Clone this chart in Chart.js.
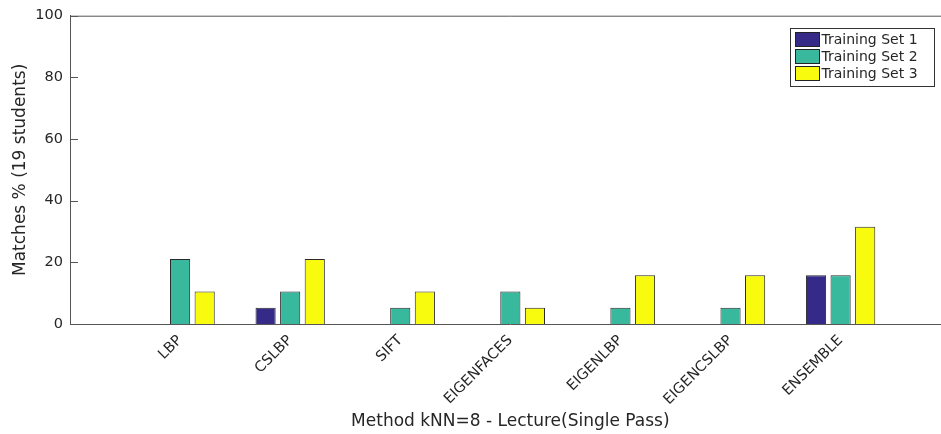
<!DOCTYPE html>
<html>
<head>
<meta charset="utf-8">
<script src="https://cdn.jsdelivr.net/npm/chart.js@4/dist/chart.umd.min.js"></script>
<style>
  html, body { margin: 0; padding: 0; background: #fff; overflow: hidden; }
  #wrap { width: 971px; height: 434px; }
</style>
</head>
<body>
<div id="wrap"><canvas id="methodChart"></canvas></div>
<script>
const methods = ['LBP', 'CSLBP', 'SIFT', 'EIGENFACES', 'EIGENLBP', 'EIGENCSLBP', 'ENSEMBLE'];
const set1 = [0, 5.26, 0, 0, 0, 0, 15.79];
const set2 = [21.05, 10.53, 5.26, 10.53, 5.26, 5.26, 15.79];
const set3 = [10.53, 21.05, 10.53, 5.26, 15.79, 15.79, 31.58];
const seriesNames = ['Training Set 1', 'Training Set 2', 'Training Set 3'];
const seriesColors = ['#352a87', '#38b99e', '#f9fb0e'];
const yTicks = [0, 20, 40, 60, 80, 100];

const textColor = '#262626';
const axisColor = '#555555';
const fontFamily = '"DejaVu Sans", sans-serif';

// empty slots at both ends so the axis runs from 0 to 8 like the original
const labels = [''].concat(methods, ['']);
const pad = arr => [null].concat(arr, [null]);

// axis box top line, inward ticks and the boxed legend
const extras = {
    id: 'extras',
    afterDraw(chart) {
        const ctx = chart.ctx;
        const area = chart.chartArea;
        const y = chart.scales.y;
        ctx.save();
        ctx.strokeStyle = axisColor;
        ctx.lineWidth = 1;
        ctx.beginPath();
        ctx.moveTo(area.left, area.top + 0.5);
        ctx.lineTo(area.right, area.top + 0.5);
        yTicks.forEach(v => {
            const py = Math.round(y.getPixelForValue(v)) + 0.5;
            ctx.moveTo(area.left, py);
            ctx.lineTo(area.left + 8, py);
        });
        ctx.stroke();

        // legend
        const lx = 790.5, ly = 28.5, lw = 144, lh = 58;
        ctx.fillStyle = '#fff';
        ctx.fillRect(lx, ly, lw, lh);
        ctx.strokeStyle = '#333';
        ctx.strokeRect(lx, ly, lw, lh);
        ctx.font = '14px ' + fontFamily;
        ctx.textBaseline = 'middle';
        chart.data.datasets.forEach((ds, i) => {
            const ry = ly + 11 + i * 17;
            ctx.fillStyle = ds.backgroundColor;
            ctx.fillRect(lx + 5, ry - 7, 24, 14);
            ctx.strokeStyle = '#222';
            ctx.strokeRect(lx + 5, ry - 7, 24, 14);
            ctx.fillStyle = textColor;
            ctx.fillText(ds.label, lx + 31, ry + 1);
        });
        ctx.restore();
    }
};

const ctx = document.getElementById('methodChart').getContext('2d');
const chart = new Chart(ctx, {
    type: 'bar',
    data: {
        labels: labels,
        datasets: [set1, set2, set3].map((vals, i) => ({
            label: seriesNames[i],
            data: pad(vals),
            backgroundColor: seriesColors[i],
            borderColor: '#2a2a2a',
            borderWidth: 1
        }))
    },
    options: {
        responsive: true,
        maintainAspectRatio: false,
        animation: false,
        categoryPercentage: 0.67,
        barPercentage: 0.82,
        layout: { padding: { top: 14, left: 0, right: 10, bottom: 2 } },
        plugins: {
            legend: { display: false },
            tooltip: { enabled: false }
        },
        scales: {
            x: {
                offset: false,
                grid: { display: false, drawTicks: false },
                border: { color: axisColor },
                ticks: {
                    autoSkip: false,
                    minRotation: 45,
                    maxRotation: 45,
                    padding: 8,
                    color: textColor,
                    font: { family: fontFamily, size: 14.5 }
                },
                title: {
                    display: true,
                    text: 'Method kNN=8 - Lecture(Single Pass)',
                    color: textColor,
                    font: { family: fontFamily, size: 17 },
                    padding: { top: 0, bottom: 0 }
                },
                afterFit: scale => { scale.height = 108; }
            },
            y: {
                min: 0,
                max: 100,
                grid: { display: false, drawTicks: false },
                border: { color: axisColor },
                ticks: {
                    stepSize: 20,
                    padding: 7,
                    color: textColor,
                    font: { family: fontFamily, size: 14.5 }
                },
                title: {
                    display: true,
                    text: 'Matches % (19 students)',
                    color: textColor,
                    font: { family: fontFamily, size: 17 },
                    padding: { top: 10, bottom: 0 }
                },
                afterFit: scale => { scale.width = 70; }
            }
        }
    },
    plugins: [extras]
});
</script>
</body>
</html>
